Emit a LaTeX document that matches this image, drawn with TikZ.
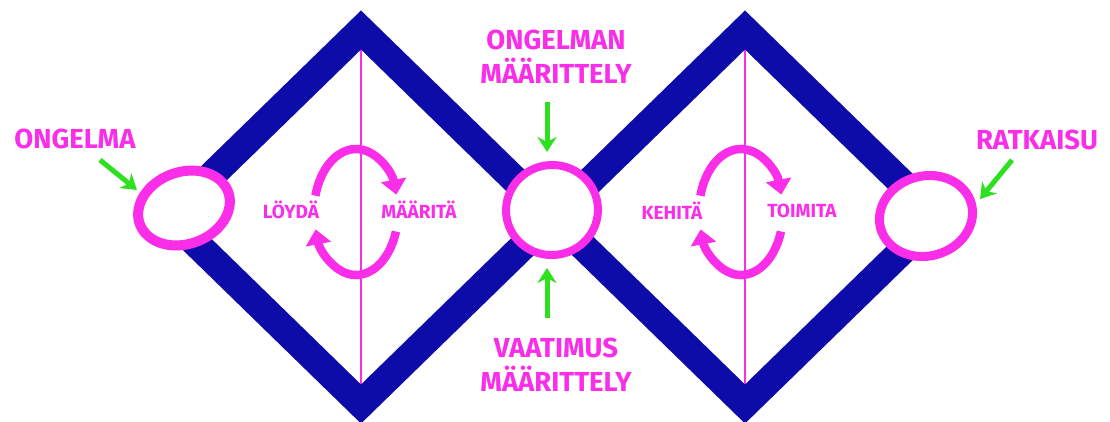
\documentclass[tikz,border=0pt]{standalone}
\usepackage{fontspec}
\setmainfont{Fira Sans}
\usepackage{xcolor}
\usetikzlibrary{positioning, arrows.meta, shapes.geometric}

\definecolor{ddblue}{RGB}{14,12,168}
\definecolor{ddpink}{RGB}{250,45,232}
\definecolor{ddgreen}{RGB}{45,225,30}

\begin{document}
\begin{tikzpicture}[x=1pt, y=-1pt,
    band/.style={draw=ddblue, line width=28pt, line join=miter, miter limit=10},
    divider/.style={draw=ddpink, line width=2.8pt},
    ring/.style={ellipse, draw=ddpink, fill=white, inner sep=0pt},
    biglabel/.style={text=ddpink, font=\fontsize{27.5}{34}\selectfont\bfseries, align=center, inner sep=0pt},
    smalllabel/.style={text=ddpink, font=\fontsize{19}{22}\selectfont\bfseries, inner sep=0pt},
    pointer/.style={draw=ddgreen, line width=5pt, -{Stealth[length=15pt, width=19pt]}},
    turn/.style={draw=ddpink, line width=8.5pt, -{Triangle[length=15pt, width=25pt]}}
]
    \useasboundingbox (0,0) rectangle (1110,421);

    % Diamonds
    \draw[band] (361,30) -- (553,217) -- (361,404) -- (169,217) -- cycle;
    \draw[band] (745,30) -- (937,217) -- (745,404) -- (553,217) -- cycle;

    % Middle lines
    \draw[divider] (361,50) -- (361,384);
    \draw[divider] (745,50) -- (745,384);

    % Rings
    \node[ring, line width=10pt, minimum width=94pt, minimum height=72pt, rotate=20] (ringL) at (184,208) {};
    \node[ring, line width=8pt, minimum width=92pt, minimum height=90pt, rotate=10] (ringM) at (552,210) {};
    \node[ring, line width=9pt, minimum width=94pt, minimum height=80pt, rotate=15] (ringR) at (926,216) {};

    % Labels
    \node[biglabel] (problem) at (75,139) {ONGELMA};
    \node[biglabel] (problemdef) at (556,57) {ONGELMAN\\MÄÄRITTELY};
    \node[biglabel] (reqdef) at (556,365) {VAATIMUS\\MÄÄRITTELY};
    \node[biglabel] (solution) at (1037,140) {RATKAISU};

    \node[smalllabel] (find) at (291,210) {LÖYDÄ};
    \node[smalllabel] (define) at (419,210) {MÄÄRITÄ};
    \node[smalllabel] (develop) at (672,211) {KEHITÄ};
    \node[smalllabel] (deliver) at (802,211) {TOIMITA};

    % Green pointers
    \coordinate (tailL) at (100,160);
    \coordinate (tipL) at (137,190);
    \coordinate (tailT) at (547,102);
    \coordinate (tipT) at (547,152);
    \coordinate (tailB) at (547,318);
    \coordinate (tipB) at (547,268);
    \coordinate (tailR) at (1012,160);
    \coordinate (tipR) at (980,199);
    \draw[pointer] (tailL) -- (tipL);
    \draw[pointer] (tailT) -- (tipT);
    \draw[pointer] (tailB) -- (tipB);
    \draw[pointer] (tailR) -- (tipR);

    % Turning arrows
    \foreach \cx in {356,741} {
        \draw[turn] (\cx,212) ++(-165:42 and 63) arc[start angle=-165, end angle=-16, x radius=42, y radius=63];
        \draw[turn] (\cx,212) ++(18:42 and 63) arc[start angle=18, end angle=164, x radius=42, y radius=63];
    }
\end{tikzpicture}
\end{document}
